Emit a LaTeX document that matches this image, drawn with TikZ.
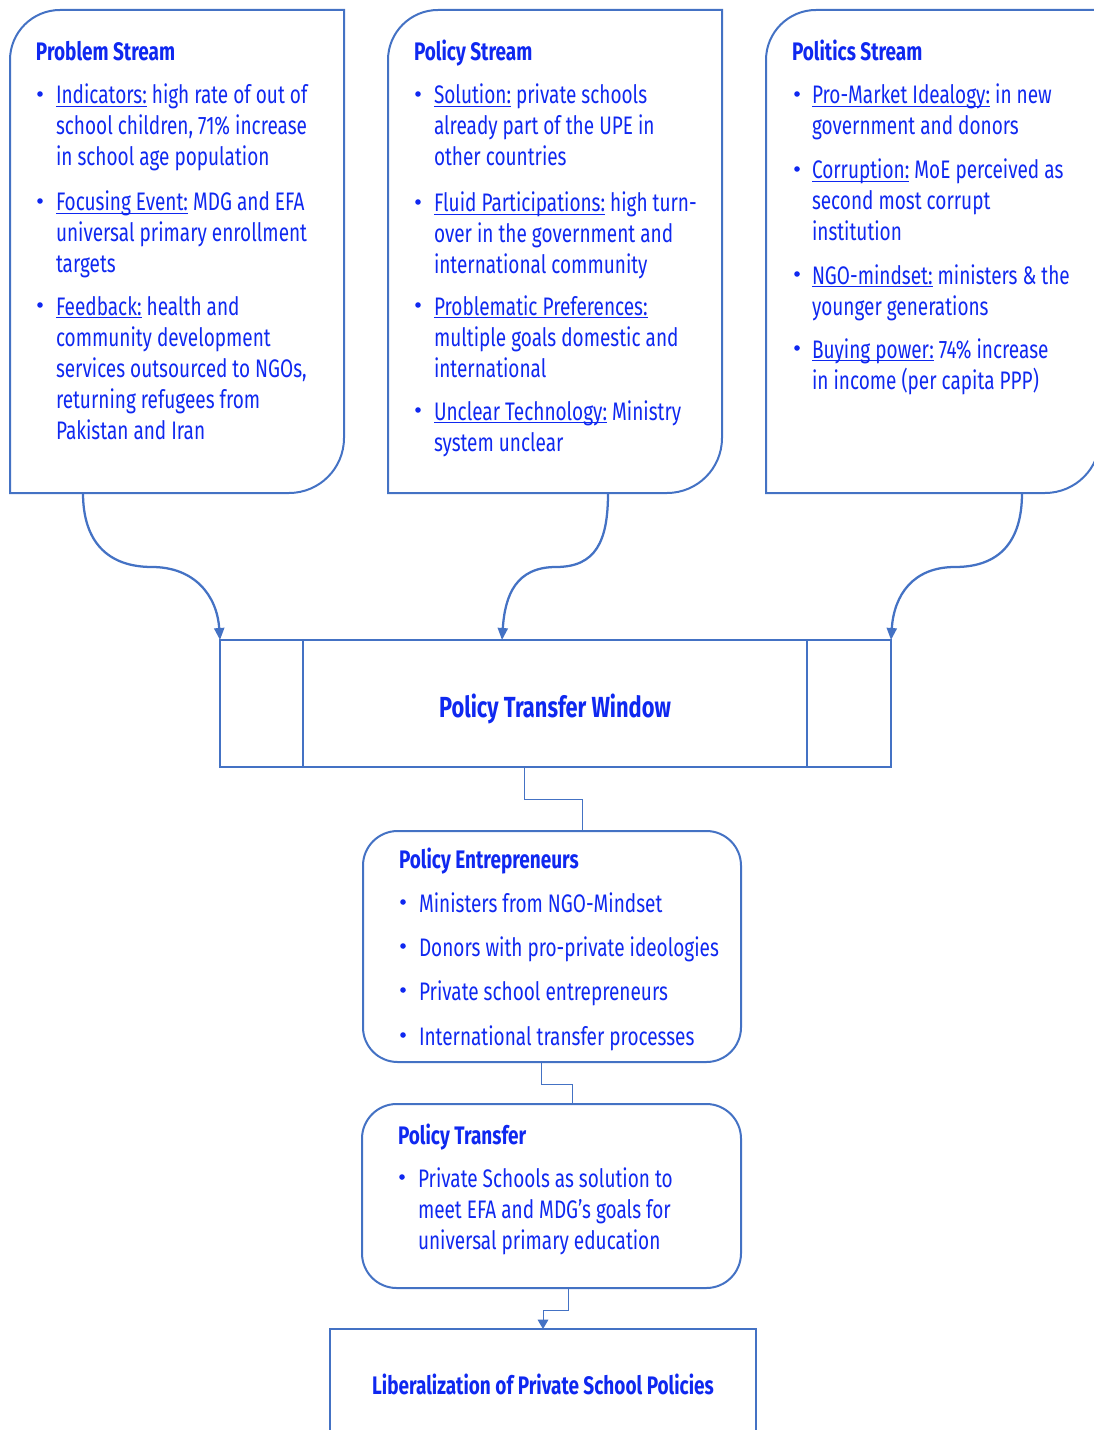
\documentclass[tikz,border=0pt]{standalone}
\usepackage{fontspec}
\setmainfont{Fira Sans}[FakeStretch=0.75]
\usetikzlibrary{arrows.meta,calc}
\definecolor{bcol}{RGB}{68,114,196}
\definecolor{tcol}{RGB}{15,40,240}
\newsavebox\myulbox
\newcommand\myul[1]{\sbox\myulbox{#1}\rlap{\rule[-2.2pt]{\wd\myulbox}{0.8pt}}\usebox\myulbox}
\newcommand\bodyfont{\fontsize{19}{23.25}\selectfont}
\newcommand\titlefont{\fontsize{19}{22}\selectfont\bfseries}
\newcommand\bigtitlefont{\fontsize{21.8}{26}\selectfont\bfseries}
\newcommand\mylines[1]{\begin{tabular}[t]{@{}l@{}}#1\end{tabular}}
\newcommand\streamoutline[2]{\draw[boxline] (#1,493) -- (#1,60) .. controls (#1,32.4) and ({#1+22.4},10) .. ({#1+50},10) -- (#2,10) -- (#2,438) .. controls (#2,468.4) and ({#2-24.6},493) .. ({#2-55},493) -- cycle;}
\tikzset{
 boxline/.style={draw=bcol, line width=1.5pt},
 thinline/.style={draw=bcol, line width=0.75pt},
 curvearrow/.style={draw=bcol, line width=1.7pt, -{Triangle[length=9pt,width=7.5pt]}},
 smallarrow/.style={draw=bcol, line width=0.75pt, -{Triangle[length=7pt,width=8pt]}},
 txt/.style={text=tcol, inner sep=0pt, outer sep=0pt, anchor=base west, font=\bodyfont},
 ttl/.style={text=tcol, inner sep=0pt, outer sep=0pt, anchor=base west, font=\titlefont},
 bul/.style={circle, fill=tcol, inner sep=0pt, outer sep=0pt, minimum size=4.2pt},
 area/.style={inner sep=0pt, outer sep=0pt},
}
\begin{document}
\begin{tikzpicture}[x=0.75pt,y=-0.75pt]
\useasboundingbox (0,0) rectangle (1094,1430);

% ---- stream boxes ----
\node[area, minimum width=334*0.75pt, minimum height=483*0.75pt] (prob) at (177,251.5) {};
\node[area, minimum width=334*0.75pt, minimum height=483*0.75pt] (pol) at (555,251.5) {};
\node[area, minimum width=334*0.75pt, minimum height=483*0.75pt] (polit) at (933,251.5) {};
\streamoutline{10}{344}
\streamoutline{388}{722}
\streamoutline{766}{1100}

% Problem stream
\node[ttl] (probT) at (36,61) {Problem Stream};
\node[bul] (probB1) at (40,94) {};
\node[txt] (probI1) at (56,104) {\mylines{\myul{Indicators:} high rate of out of\\school children, 71\% increase\\in school age population}};
\node[bul] (probB2) at (40,201) {};
\node[txt] (probI2) at (56,211) {\mylines{\myul{Focusing Event:} MDG and EFA\\universal primary enrollment\\targets}};
\node[bul] (probB3) at (40,305) {};
\node[txt] (probI3) at (56,315) {\mylines{\myul{Feedback:} health and\\community development\\services outsourced to NGOs,\\returning refugees from\\Pakistan and Iran}};

% Policy stream
\node[ttl] (polT) at (414,61) {Policy Stream};
\node[bul] (polB1) at (418,94) {};
\node[txt] (polI1) at (434,104) {\mylines{\myul{Solution:} private schools\\already part of the UPE in\\other countries}};
\node[bul] (polB2) at (418,202) {};
\node[txt] (polI2) at (434,212) {\mylines{\myul{Fluid Participations:} high turn-\\over in the government and\\international community}};
\node[bul] (polB3) at (418,305) {};
\node[txt] (polI3) at (434,315) {\mylines{\myul{Problematic Preferences:}\\multiple goals domestic and\\international}};
\node[bul] (polB4) at (418,410) {};
\node[txt] (polI4) at (434,420) {\mylines{\myul{Unclear Technology:} Ministry\\system unclear}};

% Politics stream
\node[ttl] (politT) at (792,61) {Politics Stream};
\node[bul] (politB1) at (797,94) {};
\node[txt] (politI1) at (812,104) {\mylines{\myul{Pro-Market Idealogy:} in new\\government and donors}};
\node[bul] (politB2) at (797,169) {};
\node[txt] (politI2) at (812,179) {\mylines{\myul{Corruption:} MoE perceived as\\second most corrupt\\institution}};
\node[bul] (politB3) at (797,274) {};
\node[txt] (politI3) at (812,284) {\mylines{\myul{NGO-mindset:} ministers \& the\\younger generations}};
\node[bul] (politB4) at (797,348) {};
\node[txt] (politI4) at (812,358) {\mylines{\myul{Buying power:} 74\% increase\\in income (per capita PPP)}};

% ---- Policy Transfer Window ----
\node[boxline, area, minimum width=671*0.75pt, minimum height=127*0.75pt] (ptw) at (555.5,703.5) {};
\draw[boxline, line width=1.2pt] (303,640) -- (303,767);
\draw[boxline, line width=1.2pt] (807,640) -- (807,767);
\node[text=tcol, inner sep=0pt, anchor=base, font=\bigtitlefont] (ptwT) at (555,717) {Policy Transfer Window};

% curved arrows
\coordinate (m1) at (152,567);
\coordinate (m2) at (556,567);
\coordinate (m3) at (955,567);
\draw[curvearrow] ([xshift=73*0.75pt]prob.south west) .. controls +(0,48) and +(-45,0) .. (m1) .. controls +(42,0) and +(-3,-45) .. (ptw.north west);
\draw[curvearrow] ([xshift=220*0.75pt]pol.south west) .. controls +(0,48) and +(40,0) .. (m2) .. controls +(-40,0) and +(3,-45) .. ([xshift=282*0.75pt]ptw.north west);
\draw[curvearrow] ([xshift=256*0.75pt]polit.south west) .. controls +(0,48) and +(45,0) .. (m3) .. controls +(-42,0) and +(3,-45) .. (ptw.north east);

% ---- Policy Entrepreneurs ----
\node[boxline, area, rounded corners=26pt, minimum width=378*0.75pt, minimum height=231*0.75pt] (ent) at (552,946.5) {};
\node[ttl] (entT) at (399,868) {Policy Entrepreneurs};
\node[bul] (entB1) at (403,902) {};
\node[txt] (entI1) at (419,912) {Ministers from NGO-Mindset};
\node[bul] (entB2) at (403,946) {};
\node[txt] (entI2) at (419,956) {Donors with pro-private ideologies};
\node[bul] (entB3) at (403,990) {};
\node[txt] (entI3) at (419,1000) {Private school entrepreneurs};
\node[bul] (entB4) at (403,1035) {};
\node[txt] (entI4) at (419,1045) {International transfer processes};

% ---- Policy Transfer ----
\node[boxline, area, rounded corners=26pt, minimum width=379*0.75pt, minimum height=184*0.75pt] (pt) at (551.5,1196) {};
\node[ttl] (ptT) at (398,1144) {Policy Transfer};
\node[bul] (ptB1) at (402,1177) {};
\node[txt] (ptI1) at (418,1187) {\mylines{Private Schools as solution to\\meet EFA and MDG’s goals for\\universal primary education}};

% ---- Liberalization ----
\node[boxline, area, minimum width=426*0.75pt, minimum height=121*0.75pt] (lib) at (543,1389.5) {};
\node[text=tcol, inner sep=0pt, anchor=base, font=\titlefont] (libT) at (543,1394) {Liberalization of Private School Policies};

% ---- elbow connectors ----
\draw[thinline] ([xshift=-31.5*0.75pt]ptw.south) -- ++(0,32) -| ([xshift=30*0.75pt]ent.north);
\draw[thinline] ([xshift=-11*0.75pt]ent.south) -- ++(0,22) -| ([xshift=20.5*0.75pt]pt.north);
\draw[smallarrow] ([xshift=16.5*0.75pt]pt.south) -- ++(0,22) -| (lib.north);
\end{tikzpicture}
\end{document}
